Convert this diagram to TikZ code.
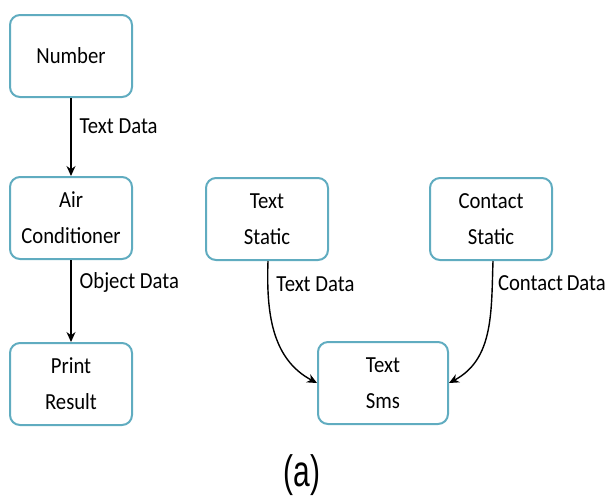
\documentclass[tikz,border=0pt]{standalone}
\usepackage{fontspec}
\setmainfont{Carlito}[FakeStretch=0.9]
\newfontfamily\captionfont{Liberation Sans}[FakeStretch=0.68]
\usetikzlibrary{arrows.meta}
\definecolor{boxline}{RGB}{96,172,192}

\begin{document}
\begin{tikzpicture}[x=0.5pt,y=-0.5pt,
  block/.style={draw=boxline, line width=1pt, rounded corners=5pt, fill=white,
    minimum width=61pt, minimum height=41pt, align=center,
    font=\fontsize{11.5}{18}\selectfont},
  flow/.style={-{Stealth[length=5pt,width=4.5pt]}, line width=0.7pt},
  lbl/.style={font=\fontsize{11.5}{12}\selectfont, inner sep=1pt}]
  \useasboundingbox (0,0) rectangle (609,500);

  % left column
  \node[block] (number) at (71,56) {Number};
  \node[block] (aircon) at (71,218) {Air\\Conditioner};
  \node[block] (print)  at (71,384) {Print\\Result};

  % right group
  \node[block] (txtstatic) at (267,219) {Text\\Static};
  \node[block] (ctstatic)  at (491,219) {Contact\\Static};
  \node[block, minimum width=65pt] (sms) at (383,383) {Text\\Sms};

  \draw[flow] (number) -- node[lbl, pos=0.36, right=3pt] {Text Data} (aircon);
  \draw[flow] (aircon) -- node[lbl, pos=0.27, right=3pt] {Object Data} (print);

  \draw[flow] ([xshift=0.5pt]txtstatic.south) to[out=-92, in=152]
    node[lbl, pos=0.15, right=3pt] {Text Data} (sms.west);
  \draw[flow] ([xshift=1pt]ctstatic.south) to[out=-92, in=28]
    node[lbl, pos=0.15, right=1.5pt] {Contact\,Data} (sms.east);

  \node[font=\captionfont\fontsize{22}{24}\selectfont] (caption) at (302,475) {(a)};
\end{tikzpicture}
\end{document}
